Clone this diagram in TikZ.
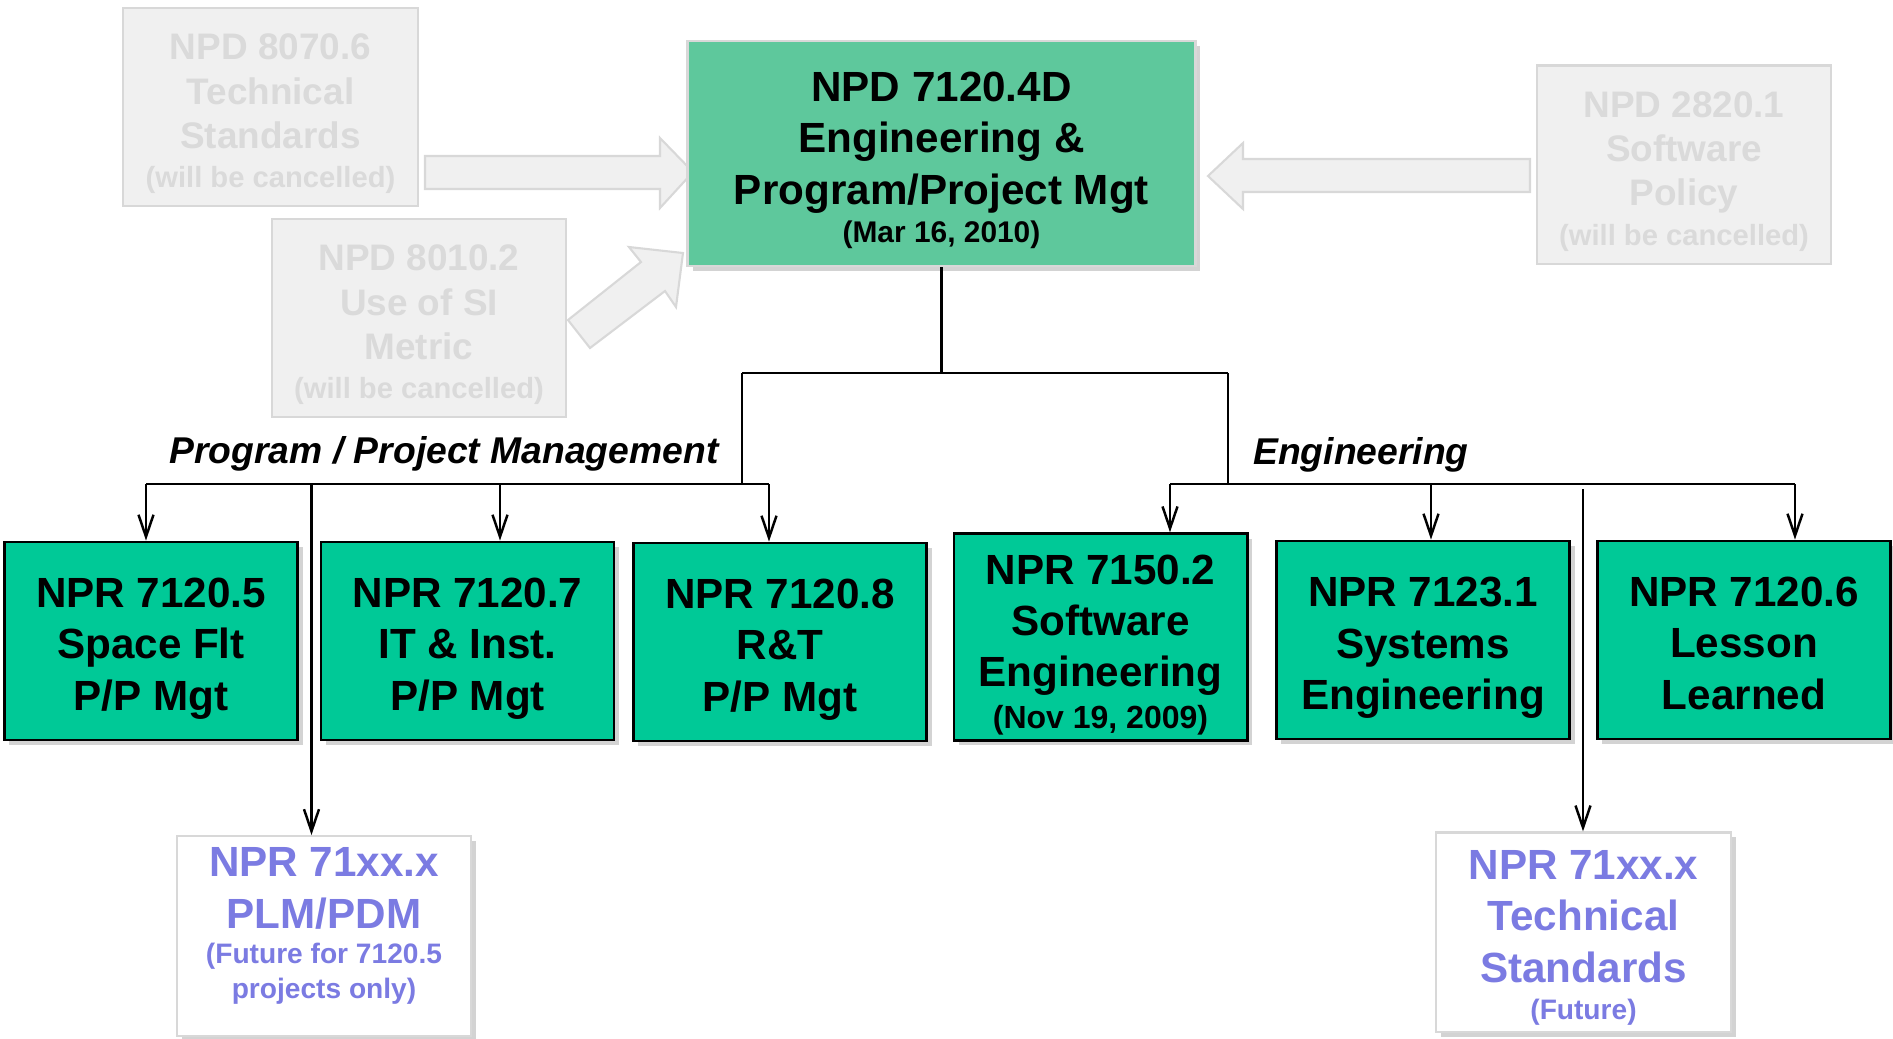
\documentclass[tikz,border=0pt]{standalone}
\usepackage{fontspec}
\setmainfont{Liberation Sans}
\usetikzlibrary{arrows.meta,shadows}

\definecolor{topgreen}{RGB}{94,200,156}
\definecolor{docgreen}{RGB}{0,201,151}
\definecolor{oldfill}{RGB}{240,240,240}
\definecolor{oldedge}{RGB}{216,216,216}
\definecolor{oldtext}{RGB}{218,218,218}
\definecolor{futuretext}{RGB}{123,123,226}

\newcommand{\bigsize}{\fontsize{12}{14.6}\selectfont}
\newcommand{\oldsize}{\fontsize{10.5}{12.6}\selectfont}
\newcommand{\notesize}{\fontsize{8.3}{9.8}\selectfont}
\newcommand{\lift}[1]{\rule{0pt}{#1}}

\begin{document}
\begin{tikzpicture}[x=0.01cm,y=-0.01cm,
    oldbox/.style={draw=oldedge, fill=oldfill, text=oldtext, line width=0.6pt, text depth=-1.7pt,
        minimum width=2.94cm, minimum height=1.98cm, align=center, font=\oldsize\bfseries},
    docbox/.style={draw=black, fill=docgreen, line width=0.8pt, text depth=-1.7pt,
        minimum width=2.93cm, minimum height=1.98cm, align=center, font=\bigsize\bfseries,
        drop shadow={shadow xshift=0.05cm, shadow yshift=-0.05cm, opacity=0.35}},
    futurebox/.style={draw=oldedge, fill=white, text=futuretext, line width=0.6pt, text depth=-1.7pt,
        minimum width=2.94cm, minimum height=1.99cm, align=center, font=\bigsize\bfseries,
        drop shadow={shadow xshift=0.05cm, shadow yshift=-0.05cm, opacity=0.35}},
    blockarrow/.style={draw=oldedge, fill=oldfill, line width=0.6pt},
    conn/.style={line width=0.7pt},
    feed/.style={conn, -{Straight Barb[length=2.2mm,width=1.5mm]}}]
    \useasboundingbox (0,0) rectangle (1893,1038);

    % cancelled directives
    \node[oldbox] (old1) at (270.5,107) {\lift{9.5pt}NPD 8070.6\\Technical\\Standards\\[-1.4pt]{\notesize(will be cancelled)}};
    \node[oldbox] (old2) at (419,318) {\lift{9.5pt}NPD 8010.2\\Use of SI\\Metric\\[-1.4pt]{\notesize(will be cancelled)}};
    \node[oldbox] (old3) at (1684,164.5) {\lift{9.5pt}NPD 2820.1\\Software\\Policy\\[-1.4pt]{\notesize(will be cancelled)}};

    \draw[blockarrow] (425,156) -- (660,156) -- (660,138) -- (693,172) -- (660,208) -- (660,189) -- (425,189) -- cycle;
    \draw[blockarrow] (568,320) -- (641,262) -- (629,247) -- (683,253) -- (676,307) -- (665,291) -- (590,348) -- cycle;
    \draw[blockarrow] (1530,159) -- (1243,159) -- (1243,143) -- (1208,176) -- (1243,209) -- (1243,192) -- (1530,192) -- cycle;

    \node[docbox, fill=topgreen, draw=oldedge, minimum width=5.07cm, minimum height=2.25cm] (top) at (941.5,153.5)
        {\lift{10.6pt}NPD 7120.4D\\Engineering \&\\Program/Project Mgt\\[-3.6pt]{\fontsize{8.5}{10}\selectfont(Mar 16, 2010)}};

    % requirements
    \node[docbox] (b1) at (151,641) {\lift{10.2pt}NPR 7120.5\\Space Flt\\P/P Mgt};
    \node[docbox] (b2) at (467.5,641) {\lift{10.2pt}NPR 7120.7\\IT \& Inst.\\P/P Mgt};
    \node[docbox] (b3) at (780,642) {\lift{10.2pt}NPR 7120.8\\R\&T\\P/P Mgt};
    \node[docbox] (b4) at (1100.5,637) {\lift{11pt}NPR 7150.2\\Software\\Engineering\\[-2.7pt]{\fontsize{9.1}{11}\selectfont(Nov 19, 2009)}};
    \node[docbox] (b5) at (1423,640) {\lift{10.4pt}NPR 7123.1\\Systems\\Engineering};
    \node[docbox] (b6) at (1744,640) {\lift{10.2pt}NPR 7120.6\\Lesson\\Learned};

    \node[futurebox, text depth=7.4pt] (f1) at (324,936) {NPR 71xx.x\\PLM/PDM\\[-4.5pt]{\fontsize{8}{9.6}\selectfont(Future for 7120.5}\\[-4.8pt]{\fontsize{8}{9.6}\selectfont projects only)}};
    \node[futurebox] (f2) at (1583.5,932) {\lift{10pt}NPR 71xx.x\\Technical\\Standards\\[-4pt]{\fontsize{8}{9.6}\selectfont(Future)}};

    \node[font=\fontsize{10.6}{12.7}\selectfont\bfseries\itshape] (pmlabel) at (444,454) {Program / Project Management};
    \node[font=\fontsize{10.6}{12.7}\selectfont\bfseries\itshape] (englabel) at (1361,455) {Engineering};

    % tree
    \coordinate (pmtop) at (742,373);
    \coordinate (engtop) at (1228,373);
    \coordinate (pmbus) at (742,484);
    \coordinate (engbus) at (1228,484);
    \foreach \n/\x in {p1/146, p0/311.5, p2/500, p3/769, e1/1170, e2/1431, e3/1795}
        \coordinate (\n) at (\x,484);
    \coordinate (e0) at (1583,489);

    \draw[conn] (top.south) -- (top.south |- pmtop);
    \draw[conn] (pmtop) -- (engtop);
    \draw[conn] (pmtop) -- (pmbus);
    \draw[conn] (engtop) -- (engbus);
    \draw[conn] (p1) -- (p3);
    \draw[conn] (e1) -- (e3);
    \draw[feed] (p1) -- (p1 |- b1.north);
    \draw[feed] (p2) -- (p2 |- b2.north);
    \draw[feed] (p3) -- (p3 |- b3.north);
    \draw[feed] (e1) -- (e1 |- b4.north);
    \draw[feed] (e2) -- (e2 |- b5.north);
    \draw[feed] (e3) -- (e3 |- b6.north);
    \draw[feed] (p0) -- (p0 |- f1.north);
    \draw[feed] (e0) -- (e0 |- f2.north);
\end{tikzpicture}
\end{document}
